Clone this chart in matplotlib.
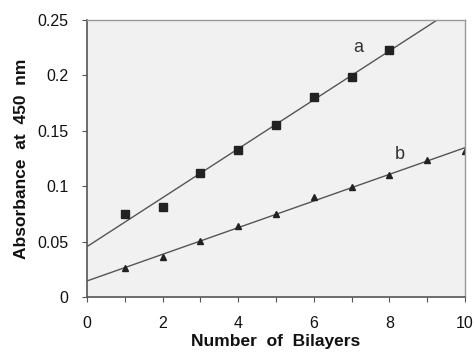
import numpy as np
import matplotlib
matplotlib.use('Agg')
import matplotlib.pyplot as plt

plt.rcParams['font.family'] = ['Liberation Sans', 'DejaVu Sans']

# absorbance readings vs. number of deposited bilayers
bilayers_a = [1, 2, 3, 4, 5, 6, 7, 8]
absorb_a = [0.075, 0.081, 0.112, 0.133, 0.155, 0.181, 0.199, 0.223]
bilayers_b = [1, 2, 3, 4, 5, 6, 7, 8, 9, 10]
absorb_b = [0.026, 0.036, 0.051, 0.064, 0.075, 0.090, 0.099, 0.110, 0.124, 0.132]

x_ticks = [0, 2, 4, 6, 8, 10]
y_ticks = [0, 0.05, 0.1, 0.15, 0.2, 0.25]
y_labels = ['0', '0.05', '0.1', '0.15', '0.2', '0.25']

fig = plt.figure(figsize=(4.75, 3.52), dpi=100)
ax = fig.add_axes([0.183, 0.156, 0.796, 0.787])
ax.set_facecolor('#f1f1f1')

xx = np.linspace(0, 10, 50)
for xs, ys, mk, ms in [(bilayers_a, absorb_a, 's', 5.5), (bilayers_b, absorb_b, '^', 5)]:
    k, b = np.polyfit(xs, ys, 1)
    ax.plot(xx, k * xx + b, color='#555555', lw=1.0)
    ax.plot(xs, ys, ls='none', marker=mk, ms=ms, color='#222222')

ax.text(7.05, 0.225, 'a', fontsize=13, color='#333333', ha='left', va='center')
ax.text(8.15, 0.129, 'b', fontsize=13, color='#333333', ha='left', va='center')

ax.set_xlim(0, 10)
ax.set_ylim(0, 0.25)
ax.set_xticks(range(0, 11), minor=True)
ax.set_xticks(x_ticks)
ax.set_yticks(y_ticks)
ax.set_yticklabels(y_labels)
ax.tick_params(axis='both', which='both', direction='out', length=3.5, width=0.8,
               color='#555555', labelsize=11.5, labelcolor='#111111')
ax.tick_params(axis='x', pad=10)
ax.tick_params(axis='y', pad=10)

for s in ['left', 'bottom']:
    ax.spines[s].set_color('#555555')
    ax.spines[s].set_linewidth(1.2)
for s in ['top', 'right']:
    ax.spines[s].set_color('#999999')
    ax.spines[s].set_linewidth(1.0)

ax.set_xlabel('Number  of  Bilayers', fontsize=12.5, fontweight='bold', labelpad=2, color='#111111')
ax.set_ylabel('Absorbance  at  450  nm', fontsize=12.5, fontweight='bold', labelpad=6, color='#111111')

fig.savefig('out.png', dpi=100)
plt.close(fig)
